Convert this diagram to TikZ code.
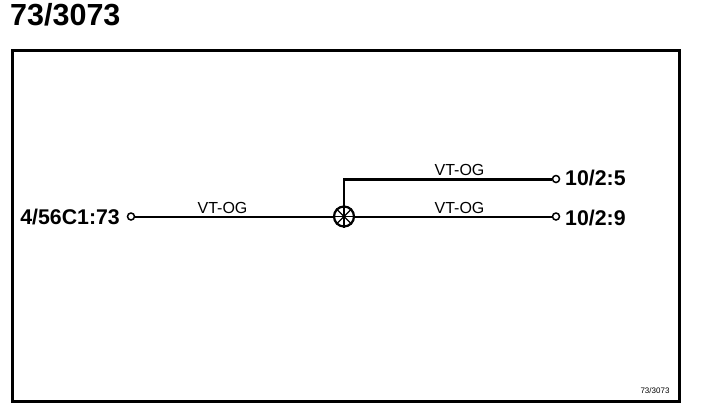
\documentclass[tikz,border=0pt]{standalone}
\usepackage{fontspec}
\setmainfont{Liberation Sans}
\tikzset{
  wire/.style={line width=2pt,line cap=butt},
  heavy/.style={line width=3pt},
  term/.style={circle,draw,line width=1.5pt,fill=white,minimum size=7pt,inner sep=0pt},
  endlabel/.style={font=\fontsize{21.3pt}{22pt}\selectfont\bfseries,inner sep=0pt},
  wirelabel/.style={font=\fontsize{16pt}{16pt}\selectfont,inner sep=0pt},
  titlelabel/.style={font=\fontsize{30.5pt}{30pt}\selectfont\bfseries,inner sep=0pt,anchor=west},
  tinylabel/.style={font=\fontsize{8pt}{8pt}\selectfont,inner sep=0pt},
}
\begin{document}
\begin{tikzpicture}[x=1pt,y=-1pt]
\useasboundingbox (0,0) rectangle (704,410);
\fill[white] (0,0) rectangle (704,410);
\node[titlelabel] (title) at (10,14.5) {73/3073};
\node[draw,line width=3pt,minimum width=667pt,minimum height=351pt,inner sep=0pt] (frame) at (345.5,225.5) {};
\node[tinylabel] (code) at (655,391) {73/3073};
\node[term] (a) at (131,216.5) {};
\node[term] (b) at (556,179) {};
\node[term] (c) at (556,216.5) {};
\node[circle,draw,line width=2.2pt,minimum size=20pt,inner sep=0pt] (j) at (344,216.5) {};
\foreach \ang in {0,45,90,135}{
  \draw[line width=1.4pt] (j.\ang) -- (j.\ang+180);
}
\draw[wire] (a) -- (j);
\draw[wire] (j) -- (c);
\draw[wire] (j.north) -- (344,179) coordinate (k);
\draw[heavy] (343,179) -- (b);
\node[endlabel,anchor=east] (la) at (120,216.5) {4/56C1:73};
\node[endlabel,anchor=west] (lb) at (565,178) {10/2:5};
\node[endlabel,anchor=west] (lc) at (565,218) {10/2:9};
\node[wirelabel] (w1) at (222.5,207.5) {VT-OG};
\node[wirelabel] (w2) at (459.5,170) {VT-OG};
\node[wirelabel] (w3) at (459.5,207.5) {VT-OG};
\end{tikzpicture}
\end{document}
